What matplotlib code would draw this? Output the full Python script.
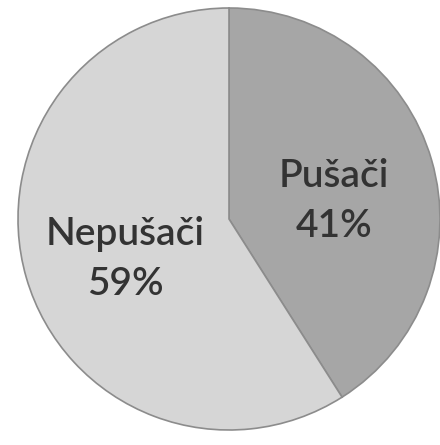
import matplotlib

matplotlib.use("Agg")
import matplotlib.pyplot as plt

labels = ["Pušači", "Nepušači"]
shares = [41, 59]
colors = ["#a6a6a6", "#d6d6d6"]

# pixel layout of the original scan
W, H = 440, 445
CX, CY, R = 229, 219, 211

fig = plt.figure(figsize=(W / 100, H / 100), dpi=100)
ax = fig.add_axes([0, 0, 1, 1])
ax.pie(shares, colors=colors, startangle=90, counterclock=False, radius=1,
       wedgeprops={"edgecolor": "#8c8c8c", "linewidth": 1.2})
ax.set_xlim(-CX / R, (W - CX) / R)
ax.set_ylim(-(H - CY) / R, CY / R)
ax.set_aspect("auto")
ax.axis("off")

text_pos = [(334, 201), (125, 259)]
for name, val, (px, py) in zip(labels, shares, text_pos):
    ax.text((px - CX) / R, (CY - py) / R, f"{name}\n{val}%", ha="center", va="center",
            fontsize=28, family="Lato", fontweight="semibold", color="#333333",
            linespacing=1.5)

fig.savefig("out.png", dpi=100, facecolor="white")
